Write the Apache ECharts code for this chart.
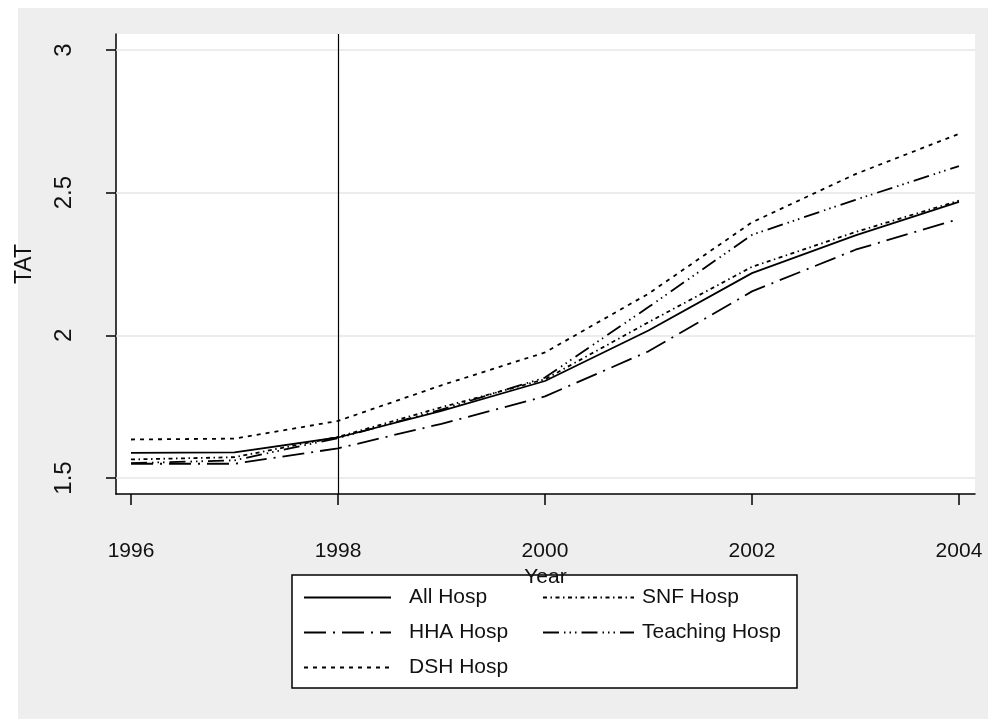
<!DOCTYPE html>
<html>
<head>
<meta charset="utf-8">
<title>TAT by year</title>
<script src="https://cdn.jsdelivr.net/npm/echarts@6/dist/echarts.min.js"></script>
<style>
  html, body { margin: 0; padding: 0; background: #ffffff; }
  #chart { width: 988px; height: 719px; }
</style>
</head>
<body>
<div id="chart"></div>
<script>
// Yearly TAT by hospital group
const years = [1996, 1997, 1998, 1999, 2000, 2001, 2002, 2003, 2004];
const allHosp      = [1.588, 1.590, 1.642, 1.735, 1.840, 2.017, 2.218, 2.350, 2.468];
const hhaHosp      = [1.550, 1.550, 1.604, 1.690, 1.786, 1.944, 2.154, 2.300, 2.408];
const dshHosp      = [1.635, 1.638, 1.700, 1.825, 1.940, 2.146, 2.396, 2.565, 2.706];
const snfHosp      = [1.565, 1.573, 1.644, 1.748, 1.846, 2.046, 2.240, 2.362, 2.472];
const teachingHosp = [1.552, 1.562, 1.640, 1.740, 1.852, 2.099, 2.352, 2.475, 2.593];

const xTicks = [1996, 1998, 2000, 2002, 2004];
const yTicks = [1.5, 2, 2.5, 3];
const referenceYear = 1998;

const FONT = '"Liberation Sans", Arial, sans-serif';
const INK = '#111111';

function pairs(values) {
  return years.map((y, i) => [y, values[i]]);
}

// dash patterns for each group
const styles = {
  'All Hosp':      'solid',
  'HHA Hosp':      [22, 7, 2, 7],
  'DSH Hosp':      [4, 5],
  'SNF Hosp':      [4, 3.5, 1.5, 3.5],
  'Teaching Hosp': [16, 5, 1.5, 4, 1.5, 4, 1.5, 5]
};

const seriesDefs = [
  ['All Hosp', allHosp],
  ['HHA Hosp', hhaHosp],
  ['DSH Hosp', dshHosp],
  ['SNF Hosp', snfHosp],
  ['Teaching Hosp', teachingHosp]
];

const series = seriesDefs.map(([name, vals], idx) => {
  const s = {
    name: name,
    type: 'line',
    data: pairs(vals),
    symbol: 'none',
    showSymbol: false,
    animation: false,
    z: 3,
    lineStyle: { color: '#000000', width: 1.8, type: styles[name], cap: 'butt' },
    itemStyle: { color: '#000000' }
  };
  if (idx === 0) {
    s.markLine = {
      silent: true,
      symbol: 'none',
      animation: false,
      label: { show: false },
      data: yTicks.map(v => ({ yAxis: v, lineStyle: { color: '#e6e6e6', width: 1.5, type: 'solid' } }))
        .concat([{ xAxis: referenceYear, lineStyle: { color: '#000000', width: 1.2, type: 'solid' } }]),
      z: 1
    };
  }
  return s;
});

const chart = echarts.init(document.getElementById('chart'), null, { renderer: 'canvas' });

// legend keys: plain line samples, no marker
const legendCommon = {
  orient: 'vertical',
  padding: 0,
  itemHeight: 21,
  itemGap: 14,
  selectedMode: false,
  itemStyle: { color: 'rgba(0,0,0,0)', borderColor: 'rgba(0,0,0,0)', borderWidth: 0 },
  lineStyle: { color: '#000000' }
};

chart.setOption({
  backgroundColor: '#ffffff',
  animation: false,
  graphic: [
    { type: 'rect', z: -10, silent: true, shape: { x: 18, y: 8, width: 970, height: 711 }, style: { fill: '#eeeeee' } },
    { type: 'rect', z: -5, silent: true, shape: { x: 292, y: 575, width: 505, height: 113 }, style: { fill: '#ffffff', stroke: '#000000', lineWidth: 1.5 } }
  ],
  grid: {
    left: 116, top: 34, right: 13, bottom: 225,
    show: true, backgroundColor: '#ffffff', borderWidth: 0
  },
  xAxis: {
    type: 'value',
    min: 1995.855, max: 2004.155,
    name: 'Year',
    nameLocation: 'middle',
    nameGap: 73,
    nameTextStyle: { fontFamily: FONT, fontSize: 21, color: INK },
    axisLine: { show: true, onZero: false, lineStyle: { color: '#000000', width: 1.5 } },
    axisTick: { show: true, length: 11, customValues: xTicks, lineStyle: { color: '#000000', width: 1.5 } },
    axisLabel: { customValues: xTicks, margin: 47, fontFamily: FONT, fontSize: 21, color: INK, formatter: v => String(v) },
    splitLine: { show: false }
  },
  yAxis: {
    type: 'value',
    min: 1.444, max: 3.056,
    name: 'TAT',
    nameLocation: 'middle',
    nameRotate: 90,
    nameGap: 80,
    nameTextStyle: { fontFamily: FONT, fontSize: 23, color: INK },
    axisLine: { show: true, onZero: false, lineStyle: { color: '#000000', width: 1.5 } },
    axisTick: { show: true, length: 10, customValues: yTicks, lineStyle: { color: '#000000', width: 1.5 } },
    axisLabel: { customValues: yTicks, rotate: 90, margin: 40, fontFamily: FONT, fontSize: 24, color: INK, formatter: v => String(v) },
    splitLine: { show: false }
  },
  legend: [
    Object.assign({}, legendCommon, {
      left: 303, top: 587, itemWidth: 87,
      textStyle: { fontFamily: FONT, fontSize: 21, color: INK, padding: [0, 0, 0, 13] },
      data: ['All Hosp', 'HHA Hosp', 'DSH Hosp']
    }),
    Object.assign({}, legendCommon, {
      left: 542, top: 587, itemWidth: 91,
      textStyle: { fontFamily: FONT, fontSize: 21, color: INK, padding: [0, 0, 0, 3] },
      data: ['SNF Hosp', 'Teaching Hosp']
    })
  ],
  series: series
});
</script>
</body>
</html>
